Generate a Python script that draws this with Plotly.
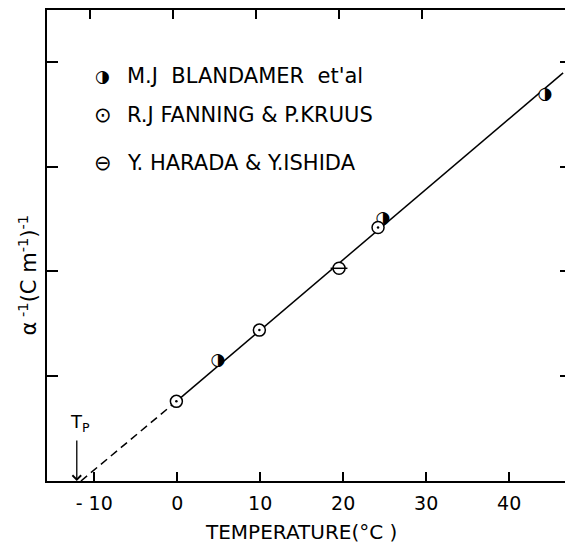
import plotly.graph_objects as go

# ---- data ----
blandamer_t = [4.9, 24.8, 44.3]
blandamer_y = [1.15, 2.50, 3.69]
fanning_t = [-0.1, 9.9, 24.2]
fanning_y = [0.76, 1.44, 2.42]
harada_t = [19.5]
harada_y = [2.03]

fit_solid_t = [-0.1, 46.5]
fit_solid_y = [0.76, 3.895]
fit_dash_t = [-11.6, -0.1]
fit_dash_y = [0.0, 0.76]

tp_t = -12.1

x_tickvals = [-10, 0, 10, 20, 30, 40]
x_ticktext = ["- 10", "0", "10", "20", "30", "40"]
y_tickvals = [1, 2, 3, 4]
top_tickvals = [-10, 0, 10, 20, 30]

legend_labels = ["M.J  BLANDAMER  et'al", "R.J FANNING & P.KRUUS", "Y. HARADA & Y.ISHIDA"]
legend_glyphs = ["\u25d1", "\u2299", "\u2296"]
legend_glyph_sizes = [17, 21, 21]

FONT = "DejaVu Sans"
MS = 12

# page body has an 8px margin: work in reference pixels and subtract it
OFF = 8
W, H = 573 - OFF, 548 - OFF
left_px, right_px, top_px, bottom_px = 47, 573, 9, 481
ml = left_px - OFF
mr = W + OFF - right_px
mt = top_px - OFF
mb = H + OFF - bottom_px
pw, ph = right_px - left_px, bottom_px - top_px

x_range = [-15.69, 47.45]
y_range = [0, 4.495]


def px(xr):
    return (xr - left_px) / pw


def py(yr):
    return (bottom_px - yr) / ph


fig = go.Figure()

# fit lines
fig.add_trace(go.Scatter(x=fit_dash_t, y=fit_dash_y, mode="lines",
                         line=dict(color="black", width=1.5, dash="8px,5px"),
                         showlegend=False, hoverinfo="skip"))
fig.add_trace(go.Scatter(x=fit_solid_t, y=fit_solid_y, mode="lines",
                         line=dict(color="black", width=1.5),
                         showlegend=False, hoverinfo="skip"))

# Blandamer: half-filled circle
fig.add_trace(go.Scatter(x=blandamer_t, y=blandamer_y, mode="markers",
                         marker=dict(symbol="circle", size=MS - 1, color="white"),
                         showlegend=False, hoverinfo="skip"))
fig.add_trace(go.Scatter(x=blandamer_t, y=blandamer_y, mode="text",
                         text=["\u25d1"] * len(blandamer_t),
                         textposition="middle center",
                         textfont=dict(family=FONT, size=17, color="black"),
                         showlegend=False))

# Fanning: open circle with central dot
fig.add_trace(go.Scatter(x=fanning_t, y=fanning_y, mode="markers",
                         marker=dict(symbol="circle", size=MS, color="white",
                                     line=dict(color="black", width=1.5)),
                         showlegend=False))
fig.add_trace(go.Scatter(x=fanning_t, y=fanning_y, mode="markers",
                         marker=dict(symbol="circle", size=2.5, color="black"),
                         showlegend=False, hoverinfo="skip"))

# Harada: circle with horizontal bar
fig.add_trace(go.Scatter(x=harada_t, y=harada_y, mode="markers",
                         marker=dict(symbol="circle", size=MS, color="white",
                                     line=dict(color="black", width=1.5)),
                         showlegend=False))
fig.add_trace(go.Scatter(x=harada_t, y=harada_y, mode="markers",
                         marker=dict(symbol="line-ew", size=MS,
                                     line=dict(color="black", width=1.5)),
                         showlegend=False, hoverinfo="skip"))

# top ticks (independent axis, slightly offset as in the original)
fig.add_trace(go.Scatter(x=[None], y=[None], xaxis="x2", showlegend=False))

annotations = []
# legend
legend_y_px = [75, 114, 162]
for g, gs, lab, ypx in zip(legend_glyphs, legend_glyph_sizes, legend_labels, legend_y_px):
    annotations.append(dict(xref="paper", yref="paper", x=px(103), y=py(ypx),
                            text=g, showarrow=False, xanchor="center", yanchor="middle",
                            font=dict(family=FONT, size=gs, color="black")))
    annotations.append(dict(xref="paper", yref="paper", x=px(125), y=py(ypx),
                            text=lab, showarrow=False, xanchor="left", yanchor="middle",
                            font=dict(family=FONT, size=21, color="black")))

# Tp arrow and label
annotations.append(dict(x=tp_t, y=0, xref="x", yref="y", ax=0, ay=-42, text="",
                        showarrow=True, arrowhead=4, arrowsize=1.3, arrowwidth=1.3,
                        arrowcolor="black"))
annotations.append(dict(x=tp_t, y=0, xref="x", yref="y", text="T<sub>P</sub>",
                        showarrow=False, xanchor="left", yanchor="bottom",
                        xshift=-9, yshift=44,
                        font=dict(family=FONT, size=18, color="black")))

# axis titles
annotations.append(dict(xref="paper", yref="paper", x=px(302), y=py(532),
                        text="TEMPERATURE(\u00b0C )", showarrow=False,
                        xanchor="center", yanchor="middle",
                        font=dict(family=FONT, size=20, color="black")))
annotations.append(dict(xref="paper", yref="paper", x=px(28), y=py(275),
                        text="\u03b1<sup> -1</sup>(C m<sup>-1</sup>)<sup>-1</sup>",
                        showarrow=False, textangle=-90,
                        xanchor="center", yanchor="middle",
                        font=dict(family=FONT, size=21, color="black")))

fig.update_layout(
    width=W, height=H,
    margin=dict(l=ml, r=mr, t=mt, b=mb, pad=0),
    paper_bgcolor="white", plot_bgcolor="white",
    showlegend=False,
    annotations=annotations,
    xaxis=dict(range=x_range, tickvals=x_tickvals, ticktext=x_ticktext,
               ticks="inside", ticklen=9, tickwidth=1.5, tickcolor="black",
               showline=True, linecolor="black", linewidth=2, mirror=True,
               showgrid=False, zeroline=False, ticklabelstandoff=4,
               tickfont=dict(family=FONT, size=19, color="black")),
    xaxis2=dict(overlaying="x", side="top",
                range=[x_range[0] + 0.45, x_range[1] + 0.45],
                tickvals=top_tickvals, showticklabels=False,
                ticks="inside", ticklen=9, tickwidth=1.5, tickcolor="black",
                showline=False, showgrid=False, zeroline=False),
    yaxis=dict(range=y_range, tickvals=y_tickvals, showticklabels=False,
               ticks="inside", ticklen=11, tickwidth=1.5, tickcolor="black",
               showline=True, linecolor="black", linewidth=2, mirror="ticks",
               showgrid=False, zeroline=False),
)

fig.write_html("out.html")
